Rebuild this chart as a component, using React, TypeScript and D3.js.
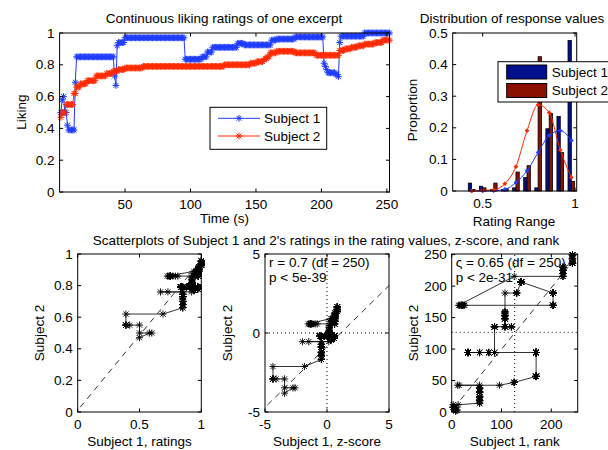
import React from "react";
import * as d3 from "d3";

const W = 608;
const H = 450;
const FONT = "'Liberation Sans', Arial, Helvetica, sans-serif";

const subject1Runs: [number, number][] = [
  [0.5, 1], [0.58, 1], [0.6, 1], [0.5, 2], [0.42, 1], [0.39, 5],
  [0.69, 1], [0.85, 29], [0.73, 1], [0.67, 1], [0.92, 1], [0.94, 5], [0.97, 46],
  [0.835, 13], [0.85, 4], [0.88, 4], [0.91, 19], [0.935, 5], [0.925, 21], [0.955, 4], [0.962, 14], [0.975, 22],
  [0.81, 1], [0.79, 1], [0.77, 1], [0.75, 6], [0.74, 2], [0.725, 1], [0.94, 1], [0.98, 18], [1.0, 20],
];
const subject2Runs: [number, number][] = [
  [0.47, 1], [0.5, 3], [0.55, 6], [0.62, 2], [0.66, 3], [0.68, 5], [0.7, 7], [0.73, 8], [0.745, 5],
  [0.76, 4], [0.77, 5], [0.78, 14], [0.79, 62], [0.8, 20], [0.81, 5], [0.82, 5],
  [0.83, 1], [0.84, 2], [0.85, 2], [0.875, 5], [0.885, 14], [0.875, 16], [0.86, 18],
  [0.89, 4], [0.9, 5], [0.91, 5], [0.92, 5], [0.93, 8], [0.94, 6], [0.955, 6],
];

// histogram of response values
const binCenters = [0.44, 0.5, 0.56, 0.62, 0.68, 0.74, 0.8, 0.86, 0.92, 0.98];
const hist1 = [0.025, 0.015, 0.005, 0.005, 0.01, 0.043, 0.01, 0.197, 0.236, 0.476];
const hist2 = [0.005, 0.01, 0.025, 0.008, 0.06, 0.08, 0.425, 0.245, 0.122, 0.03];
const curve1 = [0, 0, 0.001, 0.005, 0.027, 0.064, 0.122, 0.176, 0.191, 0.16];
const curve2 = [0, 0.002, 0.004, 0.023, 0.077, 0.191, 0.273, 0.248, 0.13, 0.043];

// reference diagonals in the scatterplots [x, y]
const diagRatings: [number, number][] = [[0.02, 0.03], [1.0, 0.96]];
const diagZ: [number, number][] = [[-4.8, -4.55], [5, 3.0]];
const diagRank: [number, number][] = [[4, 6], [252, 248]];

const statsZ = ["r = 0.7 (df = 250)", "p < 5e-39"];
const statsRank = ["\u03c2 = 0.65 (df = 250)", "p < 2e-31"];

const BLUE = "#1f3cff";
const RED = "#ff2a00";
const BAR1 = "#00108c";
const BAR2 = "#8a1000";

const expand = (runs: [number, number][]) => runs.flatMap(([v, n]) => Array(n).fill(v) as number[]);

function zscore(a: number[]) {
  const m = d3.mean(a)!;
  const s = d3.deviation(a)!;
  return a.map((v) => (v - m) / s);
}

function tiedRank(a: number[]) {
  const idx = a.map((_, i) => i).sort((i, j) => a[i] - a[j]);
  const r: number[] = new Array(a.length);
  let k = 0;
  while (k < idx.length) {
    let m = k;
    while (m + 1 < idx.length && a[idx[m + 1]] === a[idx[k]]) m++;
    const avg = (k + m) / 2 + 1;
    for (let q = k; q <= m; q++) r[idx[q]] = avg;
    k = m + 1;
  }
  return r;
}

function stars(pts: [number, number][], r = 3.5) {
  const d = r * 0.72;
  return pts
    .map(
      ([x, y]) =>
        `M${x - r},${y}h${2 * r}M${x},${y - r}v${2 * r}M${x - d},${y - d}l${2 * d},${2 * d}M${x - d},${y + d}l${2 * d},${-2 * d}`
    )
    .join("");
}

type Lin = d3.ScaleLinear<number, number>;

function Frame({ x, y, xTicks, yTicks }: { x: Lin; y: Lin; xTicks: number[]; yTicks: number[] }) {
  const [x0, x1] = x.range();
  const [y0, y1] = y.range();
  const tl = 3.5;
  return (
    <g>
      <rect x={x0} y={y1} width={x1 - x0} height={y0 - y1} fill="none" stroke="#000" strokeWidth={1} />
      {xTicks.map((t) => (
        <g key={"x" + t}>
          <line x1={x(t)} x2={x(t)} y1={y0} y2={y0 - tl} stroke="#000" />
          <line x1={x(t)} x2={x(t)} y1={y1} y2={y1 + tl} stroke="#000" />
          <text x={x(t)} y={y0 + 16.5} textAnchor="middle">
            {String(t)}
          </text>
        </g>
      ))}
      {yTicks.map((t) => (
        <g key={"y" + t}>
          <line x1={x0} x2={x0 + tl} y1={y(t)} y2={y(t)} stroke="#000" />
          <line x1={x1} x2={x1 - tl} y1={y(t)} y2={y(t)} stroke="#000" />
          <text x={x0 - 5} y={y(t) + 4.5} textAnchor="end">
            {String(t)}
          </text>
        </g>
      ))}
    </g>
  );
}

const YLabel = ({ cx, cy, text }: { cx: number; cy: number; text: string }) => (
  <text transform={`translate(${cx + 4.5},${cy}) rotate(-90)`} textAnchor="middle">
    {text}
  </text>
);

function Scatter({
  xs, ys, x, y, xTicks, yTicks, diag, cross, stats, xlabel,
}: {
  xs: number[]; ys: number[]; x: Lin; y: Lin; xTicks: number[]; yTicks: number[];
  diag: [number, number][]; cross?: [number, number]; stats?: string[]; xlabel: string;
}) {
  const pts = xs.map((v, i) => [x(v), y(ys[i])] as [number, number]);
  const [x0, x1] = x.range();
  const [y0, y1] = y.range();
  return (
    <g>
      <line
        x1={x(diag[0][0])} y1={y(diag[0][1])} x2={x(diag[1][0])} y2={y(diag[1][1])}
        stroke="#000" strokeWidth={0.8} strokeDasharray="6,5"
      />
      {cross && (
        <g stroke="#000" strokeWidth={1} strokeDasharray="1,3">
          <line x1={x(cross[0])} x2={x(cross[0])} y1={y0} y2={y1} />
          <line x1={x0} x2={x1} y1={y(cross[1])} y2={y(cross[1])} />
        </g>
      )}
      <path d={d3.line()(pts) || ""} fill="none" stroke="#000" strokeWidth={0.8} />
      <path d={stars(pts, 3.6)} fill="none" stroke="#000" strokeWidth={1} opacity={0.9} />
      {stats &&
        stats.map((s, i) => (
          <text key={s} x={x0 + 4} y={y1 + 13 + i * 15}>
            {s}
          </text>
        ))}
      <Frame x={x} y={y} xTicks={xTicks} yTicks={yTicks} />
      <text x={(x0 + x1) / 2} y={y0 + 34} textAnchor="middle">
        {xlabel}
      </text>
      <YLabel cx={x0 - 38} cy={(y0 + y1) / 2} text="Subject 2" />
    </g>
  );
}

export default function App() {
  const s1 = expand(subject1Runs);
  const s2 = expand(subject2Runs);
  const time = s1.map((_, i) => i + 1);

  // top-left: continuous ratings
  const tx = d3.scaleLinear().domain([0, 252]).range([59.6, 389.5]);
  const ty = d3.scaleLinear().domain([0, 1]).range([192, 33]);
  const p1 = time.map((t, i) => [tx(t), ty(s1[i])] as [number, number]);
  const p2 = time.map((t, i) => [tx(t), ty(s2[i])] as [number, number]);

  // top-right: histogram
  const hx = d3.scaleLinear().domain([0.3375, 1.009]).range([452.7, 576.7]);
  const hy = d3.scaleLinear().domain([0, 0.5]).range([191, 33]);
  const bw = 0.018;
  const curve = d3
    .line<number>()
    .x((_, i) => hx(binCenters[i]))
    .y((d) => hy(d))
    .curve(d3.curveMonotoneX);

  // bottom: scatterplots
  const ay = [412, 254];
  const rx = d3.scaleLinear().domain([0, 1]).range([77.7, 201.3]);
  const ry = d3.scaleLinear().domain([0, 1]).range(ay);
  const zx = d3.scaleLinear().domain([-5, 5]).range([265, 389]);
  const zy = d3.scaleLinear().domain([-5, 5]).range(ay);
  const kx = d3.scaleLinear().domain([0, 253]).range([451.7, 577.7]);
  const ky = d3.scaleLinear().domain([0, 251]).range(ay);
  const z1 = zscore(s1);
  const z2 = zscore(s2);
  const k1 = tiedRank(s1);
  const k2 = tiedRank(s2);
  const kMid = (s1.length + 1) / 2;

  return (
    <svg
      width={W}
      height={H}
      style={{ position: "absolute", left: 0, top: 0, background: "#fff" }}
      fontFamily={FONT}
      fontSize={13.5}
      fill="#000"
    >
      <rect width={W} height={H} fill="#fff" />

      {/* continuous ratings */}
      <path d={d3.line()(p1) || ""} fill="none" stroke={BLUE} strokeWidth={1} />
      <path d={stars(p1, 3.4)} fill="none" stroke={BLUE} strokeWidth={1} />
      <path d={d3.line()(p2) || ""} fill="none" stroke={RED} strokeWidth={1} />
      <path d={stars(p2, 3.4)} fill="none" stroke={RED} strokeWidth={1} />
      <Frame x={tx} y={ty} xTicks={[50, 100, 150, 200, 250]} yTicks={[0, 0.2, 0.4, 0.6, 0.8, 1]} />
      <text x={224} y={22.5} textAnchor="middle">Continuous liking ratings of one excerpt</text>
      <text x={224.5} y={222.5} textAnchor="middle">Time (s)</text>
      <YLabel cx={21} cy={112} text="Liking" />
      <g>
        <rect x={210} y={107.3} width={116.7} height={42} fill="#fff" stroke="#000" />
        {[
          { c: BLUE, l: "Subject 1", yy: 118.3 },
          { c: RED, l: "Subject 2", yy: 136 },
        ].map((e) => (
          <g key={e.l}>
            <line x1={218} x2={260} y1={e.yy} y2={e.yy} stroke={e.c} />
            <path d={stars([[239, e.yy]], 3.4)} stroke={e.c} fill="none" />
            <text x={264} y={e.yy + 4.5}>{e.l}</text>
          </g>
        ))}
      </g>

      {/* distribution */}
      {binCenters.map((c, i) => (
        <g key={c} stroke="#000" strokeWidth={0.8}>
          <rect x={hx(c - bw)} y={hy(hist1[i])} width={hx(c) - hx(c - bw)} height={hy(0) - hy(hist1[i])} fill={BAR1} />
          <rect x={hx(c)} y={hy(hist2[i])} width={hx(c + bw) - hx(c)} height={hy(0) - hy(hist2[i])} fill={BAR2} />
        </g>
      ))}
      <path d={curve(curve1) || ""} fill="none" stroke={BLUE} strokeWidth={1} />
      <path d={curve(curve2) || ""} fill="none" stroke={RED} strokeWidth={1} />
      {binCenters.map((c, i) => (
        <g key={"m" + c}>
          <path d={d3.symbol(d3.symbolDiamond2, 14)() || ""} transform={`translate(${hx(c)},${hy(curve1[i])})`} fill={BLUE} />
          <path d={d3.symbol(d3.symbolDiamond2, 14)() || ""} transform={`translate(${hx(c)},${hy(curve2[i])})`} fill={RED} />
        </g>
      ))}
      <Frame x={hx} y={hy} xTicks={[0.5, 1]} yTicks={[0, 0.1, 0.2, 0.3, 0.4, 0.5]} />
      <text x={512} y={22.5} textAnchor="middle">Distribution of response values</text>
      <text x={514} y={226} textAnchor="middle">Rating Range</text>
      <YLabel cx={412} cy={110} text="Proportion" />
      <g>
        <rect x={498} y={61.7} width={120} height={40.3} fill="#fff" stroke="#000" />
        {[
          { c: BAR1, l: "Subject 1", yy: 72 },
          { c: BAR2, l: "Subject 2", yy: 90.5 },
        ].map((e) => (
          <g key={e.l}>
            <rect x={506.7} y={e.yy - 7} width={40} height={14} fill={e.c} stroke="#000" />
            <text x={551.7} y={e.yy + 4.5}>{e.l}</text>
          </g>
        ))}
      </g>

      {/* scatterplots */}
      <text x={326} y={244.5} textAnchor="middle">
        Scatterplots of Subject 1 and 2's ratings in the rating values, z-score, and rank
      </text>
      <Scatter xs={s1} ys={s2} x={rx} y={ry} xTicks={[0, 0.5, 1]} yTicks={[0, 0.2, 0.4, 0.6, 0.8, 1]}
        diag={diagRatings} xlabel="Subject 1, ratings" />
      <Scatter xs={z1} ys={z2} x={zx} y={zy} xTicks={[-5, 0, 5]} yTicks={[-5, 0, 5]}
        diag={diagZ} cross={[0, 0]} stats={statsZ} xlabel="Subject 1, z-score" />
      <Scatter xs={k1} ys={k2} x={kx} y={ky} xTicks={[0, 100, 200]} yTicks={[0, 50, 100, 150, 200, 250]}
        diag={diagRank} cross={[kMid, kMid]} stats={statsRank} xlabel="Subject 1, rank" />
    </svg>
  );
}
